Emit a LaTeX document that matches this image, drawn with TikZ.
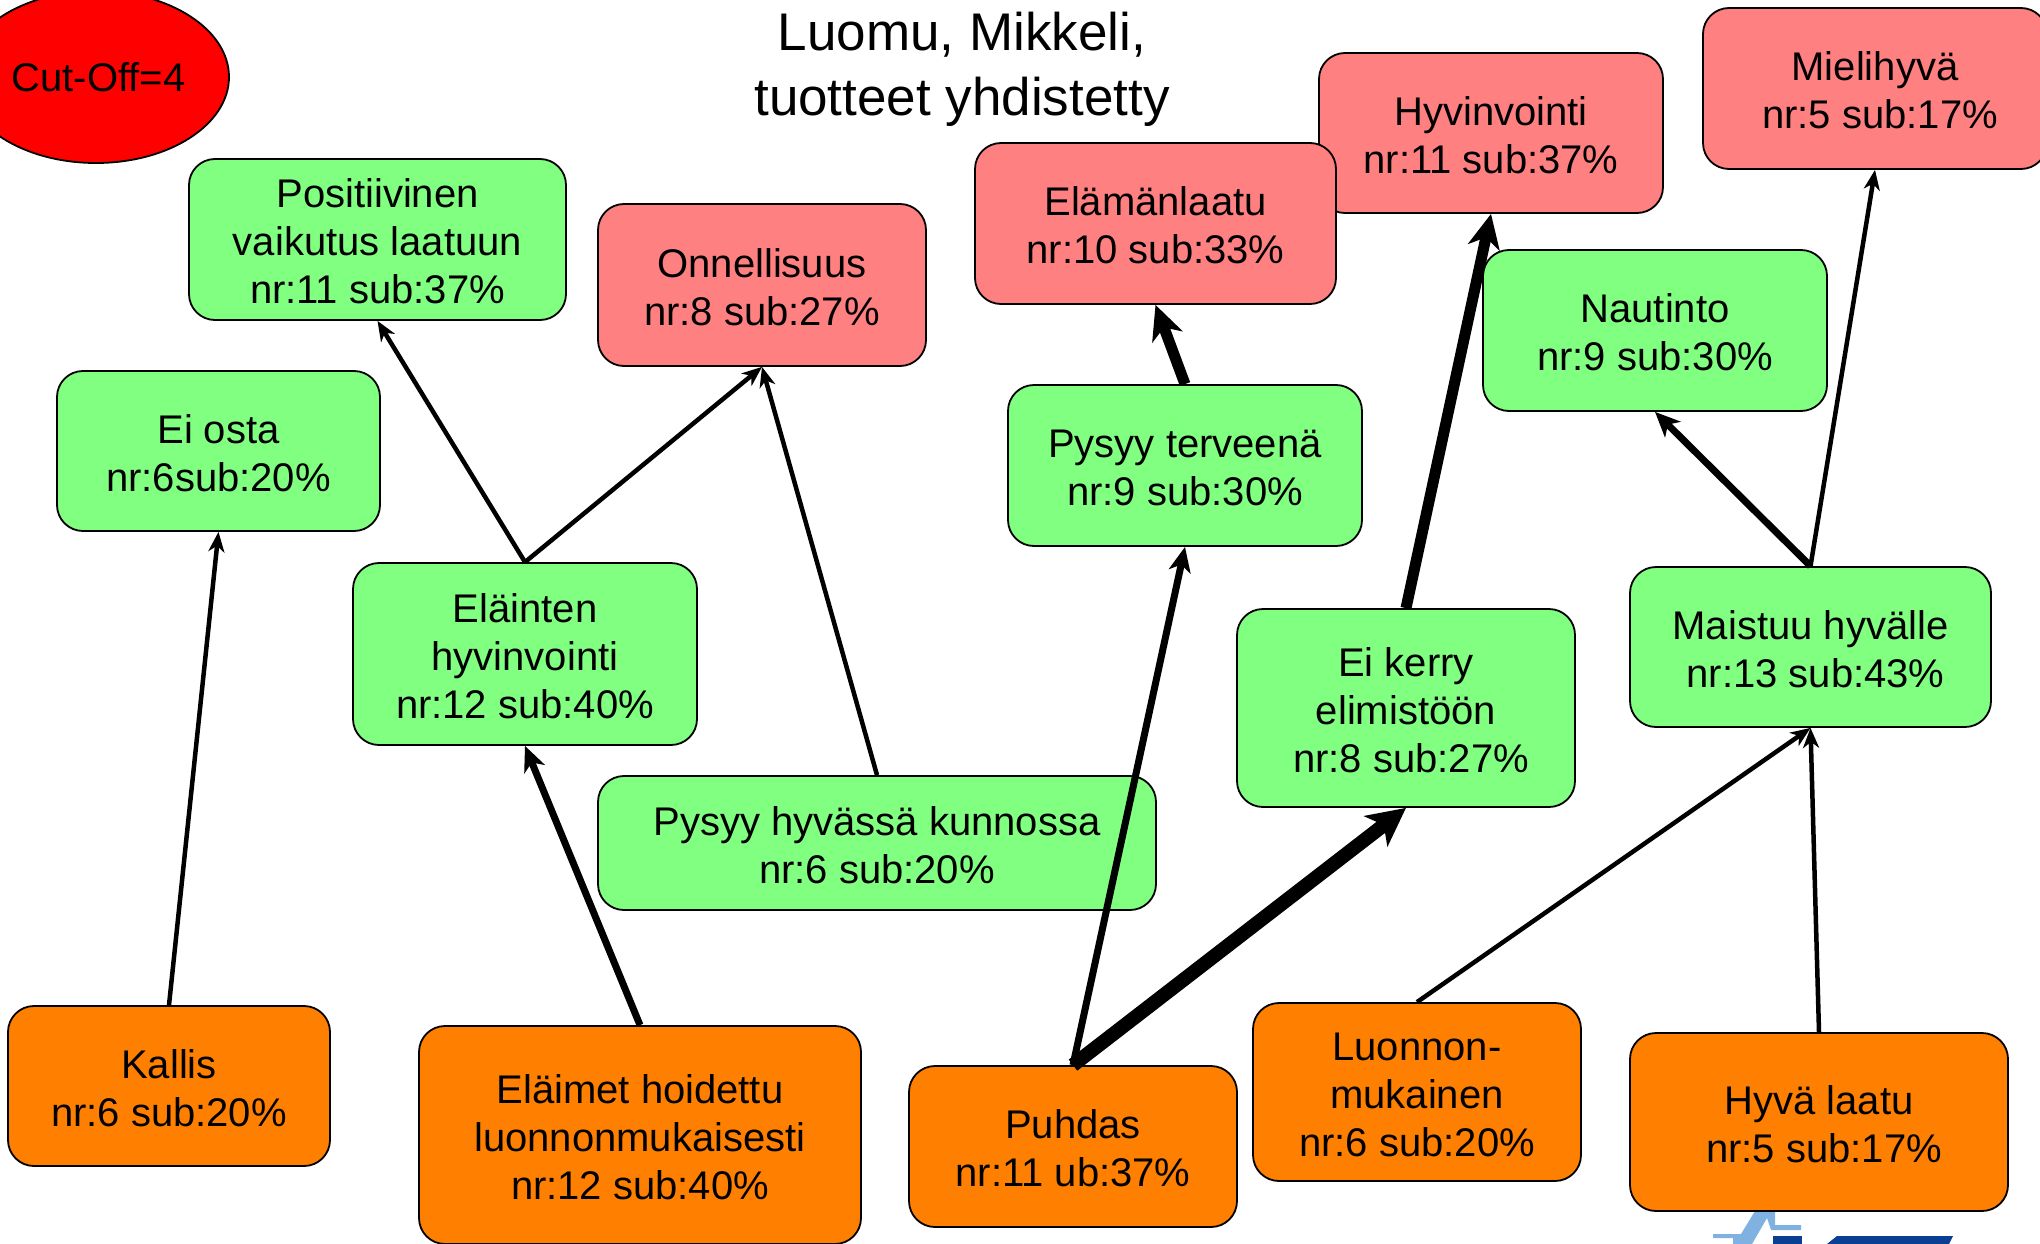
\documentclass[tikz,border=0pt]{standalone}
\usepackage{fontspec}
\setmainfont{Liberation Sans}
\usetikzlibrary{arrows.meta,shapes.geometric}
\newcommand\tl[1]{\raisebox{-6.5pt}[\height][\depth]{\begin{tabular}{@{}c@{}}#1\end{tabular}}}
\tikzset{
  x=1pt,y=-1pt,
  boxbase/.style={draw=black,line width=1.8pt,rounded corners=26pt,inner sep=0pt,font=\fontsize{40}{48}\selectfont},
  greenbox/.style={boxbase,fill=green1},
  redbox/.style={boxbase,fill=red1},
  orangebox/.style={boxbase,fill=orange1},
  thinarrow/.style={line width=4.5pt,-{Stealth[length=20pt,width=16pt,inset=6pt]}},
  midarrow/.style={line width=7pt,-{Stealth[length=25pt,width=22pt,inset=7pt]}},
  boldarrow/.style={line width=11pt,-{Stealth[length=34pt,width=32pt,inset=10pt]}},
  heavyarrow/.style={line width=14pt,-{Stealth[length=38pt,width=38pt,inset=10pt]}},
  box/.style n args={5}{#5,minimum width={(#3)-(#1)},minimum height={(#4)-(#2)},anchor=center,at={({((#1)+(#3))/2},{((#2)+(#4))/2})}}
}
\definecolor{green1}{HTML}{80FF80}
\definecolor{red1}{HTML}{FF8080}
\definecolor{orange1}{HTML}{FF8000}
\definecolor{logolight}{HTML}{7FB2E0}
\definecolor{logodark}{HTML}{0A3F94}
\begin{document}
\begin{tikzpicture}
\useasboundingbox (0,0) rectangle (2040,1244);
\begin{scope}
\clip (0,0) rectangle (2040,1244);
% logo fragment behind the box
\fill[logolight] (1713,1234) -- (1741,1234) -- (1755,1211) -- (1775,1211) -- (1775,1225) -- (1801,1225) -- (1801,1230) -- (1771,1230) -- (1767,1218) -- (1752,1244) -- (1733,1244) -- (1733,1238) -- (1713,1238) -- cycle;
\fill[logodark] (1773,1236) -- (1802,1236) -- (1802,1244) -- (1773,1244) -- cycle;
\fill[logodark] (1837,1236) -- (1953,1236) -- (1949,1244) -- (1827,1244) -- cycle;

\node[fill=red,draw=black,line width=1.8pt,ellipse,minimum width=266pt,minimum height=172pt,inner sep=0pt,font=\fontsize{40}{48}\selectfont] (cut) at (96,77) {\hspace*{5pt}Cut-Off=4};
\node[font=\fontsize{53}{65}\selectfont,align=center] (title) at (962,69) {Luomu, Mikkeli,\\tuotteet yhdistetty};

\node[box={189}{159}{566}{320}{greenbox}] (pos) {\tl{Positiivinen\\vaikutus laatuun\\nr:11 sub:37\%}};
\node[box={57}{371}{380}{531}{greenbox}] (osta) {\tl{Ei osta\\nr:6sub:20\%}};
\node[box={353}{563}{697}{745}{greenbox}] (elhyv) {\tl{Eläinten\\hyvinvointi\\nr:12 sub:40\%}};
\node[box={598}{204}{926}{366}{redbox}] (onn) {\tl{Onnellisuus\\nr:8 sub:27\%}};
\node[box={1319}{53}{1663}{213}{redbox}] (hyv) {\tl{Hyvinvointi\\nr:11 sub:37\%}};
\node[box={975}{143}{1336}{304}{redbox}] (elam) {\tl{Elämänlaatu\\nr:10 sub:33\%}};
\node[box={1703}{8}{2047}{169}{redbox}] (miel) {\tl{Mielihyvä\\\hspace*{10pt}nr:5 sub:17\%}};
\node[box={1483}{250}{1827}{411}{greenbox}] (naut) {\tl{Nautinto\\nr:9 sub:30\%}};
\node[box={1008}{385}{1362}{546}{greenbox}] (terve) {\tl{Pysyy terveenä\\nr:9 sub:30\%}};
\node[box={1237}{609}{1575}{807}{greenbox}] (kerry) {\tl{Ei kerry\\elimistöön\\\hspace*{10pt}nr:8 sub:27\%}};
\node[box={1630}{567}{1991}{727}{greenbox}] (mais) {\tl{Maistuu hyvälle\\\hspace*{10pt}nr:13 sub:43\%}};
\node[box={598}{776}{1156}{910}{greenbox}] (kunto) {\tl{Pysyy hyvässä kunnossa\\nr:6 sub:20\%}};
\node[box={8}{1006}{330}{1166}{orangebox}] (kallis) {\tl{Kallis\\nr:6 sub:20\%}};
\node[box={419}{1026}{861}{1244}{orangebox}] (elaim) {\tl{Eläimet hoidettu\\luonnonmukaisesti\\nr:12 sub:40\%}};
\node[box={909}{1066}{1237}{1227}{orangebox}] (puhd) {\tl{Puhdas\\nr:11 ub:37\%}};
\node[box={1253}{1003}{1581}{1181}{orangebox}] (luon) {\tl{Luonnon-\\mukainen\\nr:6 sub:20\%}};
\node[box={1630}{1033}{2008}{1211}{orangebox}] (laatu) {\tl{Hyvä laatu\\\hspace*{10pt}nr:5 sub:17\%}};

\draw[thinarrow] (kallis.north) -- (osta.south);
\draw[thinarrow] (elhyv.north) -- (pos.south);
\draw[thinarrow] (elhyv.north) -- (onn.south);
\draw[thinarrow] (kunto.north) -- (onn.south);
\draw[midarrow] (elaim.north) -- (elhyv.south);
\draw[midarrow] (puhd.north) -- (terve.south);
\draw[heavyarrow] (puhd.north) -- (kerry.south);
\draw[boldarrow] (terve.north) -- (elam.south);
\draw[boldarrow] (kerry.north) -- (hyv.south);
\draw[midarrow] (mais.north) -- (naut.south);
\draw[thinarrow] (mais.north) -- (miel.south);
\draw[thinarrow] (luon.north) -- (mais.south);
\draw[thinarrow] (laatu.north) -- (mais.south);
\end{scope}
\end{tikzpicture}
\end{document}
